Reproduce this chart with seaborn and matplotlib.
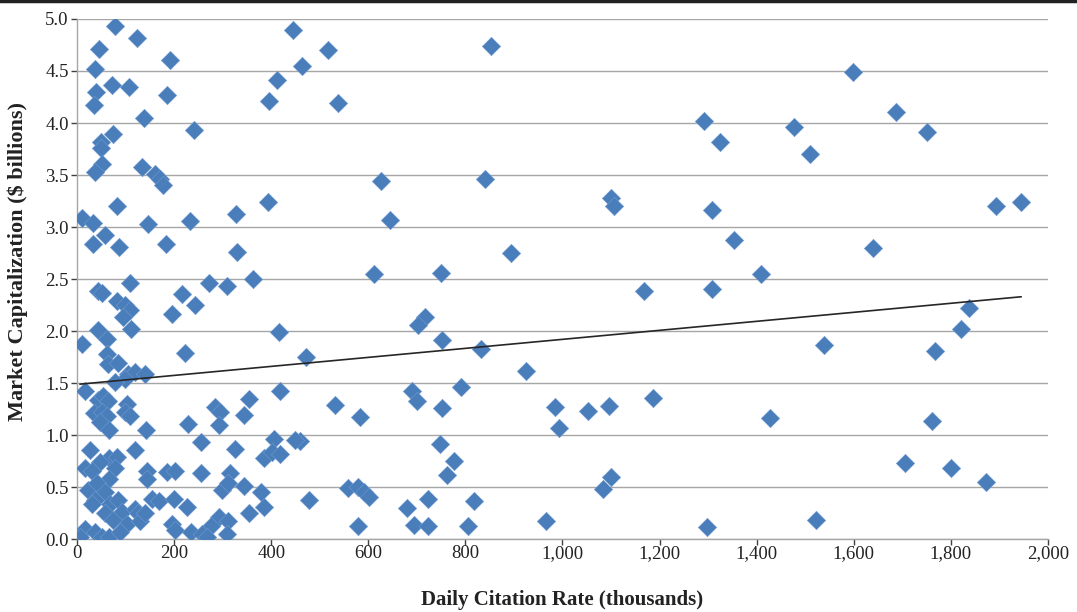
import matplotlib
matplotlib.use("Agg")
import matplotlib.pyplot as plt
import matplotlib.ticker as mticker
import pandas as pd
import seaborn as sns

# daily citation rate (thousands)
citation_rate = [
    78, 123, 46, 37, 192, 73, 108, 39, 34, 185, 138, 240, 74, 49, 50, 51, 37, 133, 160, 170, 178,
    395, 411, 445, 464, 516, 538, 853,
    626, 840, 645, 893, 612, 750,
    1598, 1687, 1292, 1476, 1751, 1324, 1510, 1100, 1107, 1308, 1893, 1945, 1354, 1640, 1408,
    1168, 1308, 1837, 1820, 1768, 1538, 1052, 1095, 1187, 1428, 1761, 1706, 1801, 1872, 1101, 1084, 1298, 1522,
    717, 703, 751, 832, 471, 925, 791, 691, 700, 531, 583, 751, 985, 992, 460, 748, 776, 762,
    558, 578, 591, 602, 478, 722, 818, 679, 578, 694, 724, 806, 966,
    82, 10, 33, 146, 232, 328, 393, 33, 58, 86, 183, 330, 109, 44, 51, 271, 309, 363, 217, 244,
    196, 83, 99, 109, 94, 112, 44, 61, 10, 416, 223, 62, 64, 84, 106, 120, 140, 99, 78, 17,
    44, 54, 64, 34, 51, 61, 48, 65, 103, 99, 109, 142, 229, 27, 120, 65, 82, 48, 17, 30, 78, 65,
    144, 144, 185, 202, 23, 41, 58, 37, 30, 68, 85, 92, 120, 126, 154, 168, 199, 226, 58, 75,
    103, 130, 17, 6, 37, 51, 65, 89, 196, 202, 235, 140,
    419, 354, 285, 295, 343, 292, 256, 326, 405, 450, 385, 402, 419, 256, 316, 299, 312, 343,
    378, 385, 354, 292, 312, 275, 257, 309, 268,
]

# market capitalization ($ billions)
market_cap = [
    4.93, 4.82, 4.71, 4.52, 4.61, 4.37, 4.35, 4.30, 4.17, 4.27, 4.05, 3.93, 3.89, 3.82, 3.76, 3.61, 3.53, 3.58, 3.51, 3.46, 3.40,
    4.21, 4.41, 4.89, 4.55, 4.70, 4.19, 4.74,
    3.44, 3.46, 3.07, 2.75, 2.55, 2.56,
    4.49, 4.11, 4.02, 3.96, 3.91, 3.82, 3.70, 3.28, 3.20, 3.16, 3.20, 3.24, 2.88, 2.80, 2.55,
    2.39, 2.40, 2.22, 2.02, 1.81, 1.87, 1.23, 1.28, 1.36, 1.16, 1.14, 0.73, 0.68, 0.55, 0.60, 0.48, 0.12, 0.18,
    2.14, 2.06, 1.91, 1.83, 1.75, 1.62, 1.46, 1.42, 1.33, 1.29, 1.17, 1.26, 1.27, 1.07, 0.94, 0.91, 0.75, 0.62,
    0.49, 0.50, 0.45, 0.41, 0.38, 0.39, 0.37, 0.30, 0.13, 0.14, 0.13, 0.13, 0.17,
    3.20, 3.09, 3.04, 3.03, 3.06, 3.13, 3.24, 2.84, 2.92, 2.81, 2.84, 2.76, 2.46, 2.39, 2.37, 2.46, 2.43, 2.50, 2.36, 2.25,
    2.16, 2.29, 2.25, 2.20, 2.14, 2.02, 2.01, 1.92, 1.88, 1.99, 1.79, 1.78, 1.68, 1.69, 1.59, 1.61, 1.59, 1.54, 1.51, 1.42,
    1.34, 1.38, 1.33, 1.21, 1.22, 1.18, 1.13, 1.05, 1.30, 1.22, 1.18, 1.05, 1.11, 0.86, 0.86, 0.78, 0.79, 0.74, 0.68, 0.66, 0.68, 0.58,
    0.66, 0.58, 0.65, 0.66, 0.47, 0.54, 0.45, 0.38, 0.34, 0.34, 0.38, 0.26, 0.29, 0.25, 0.39, 0.37, 0.39, 0.31, 0.25, 0.18,
    0.15, 0.17, 0.10, 0.02, 0.07, 0.02, 0.02, 0.07, 0.15, 0.09, 0.07, 0.25,
    1.42, 1.35, 1.27, 1.22, 1.19, 1.10, 0.93, 0.87, 0.96, 0.95, 0.78, 0.84, 0.82, 0.64, 0.64, 0.47, 0.54, 0.51,
    0.45, 0.31, 0.25, 0.21, 0.17, 0.13, 0.05, 0.05, 0.02,
]

# linear trend line as drawn in the chart (value at each end of the data range)
trend_x = [min(citation_rate), max(citation_rate)]
trend_y = [1.49, 2.33]

x_ticks = list(range(0, 2001, 200))
y_ticks = [i / 2 for i in range(11)]

df = pd.DataFrame({"Daily Citation Rate (thousands)": citation_rate,
                   "Market Capitalization ($ billions)": market_cap})
trend = pd.DataFrame({"x": trend_x, "y": trend_y})

sns.set_theme(style="white")
plt.rcParams["font.family"] = ["Liberation Serif", "DejaVu Serif"]

fig = plt.figure(figsize=(10.77, 6.12), dpi=100)
ax = fig.add_axes([0.0715, 0.119, 0.9015, 0.85])

grid_color = "#A6A6A6"
ax.set_axisbelow(True)
ax.yaxis.grid(True, color=grid_color, linewidth=1.0)
ax.xaxis.grid(False)

sns.scatterplot(data=df, x="Daily Citation Rate (thousands)", y="Market Capitalization ($ billions)",
                marker="D", s=88, color="#4A7EBB", edgecolor="#6F9AD0", linewidth=0.4, ax=ax, zorder=3)
sns.lineplot(data=trend, x="x", y="y", color="#262626", linewidth=1.2, ax=ax, zorder=4)

ax.set_xlim(0, 2000)
ax.set_ylim(0, 5)
ax.set_xticks(x_ticks)
ax.set_yticks(y_ticks)
ax.xaxis.set_major_formatter(mticker.FuncFormatter(lambda v, p: f"{int(v):,}"))
ax.yaxis.set_major_formatter(mticker.FormatStrFormatter("%.1f"))
ax.tick_params(axis="both", labelsize=13.5, colors="#404040", labelcolor="#222222",
               direction="out", length=4, width=1.0, bottom=True, left=True)
ax.tick_params(axis="x", pad=0)
ax.tick_params(axis="y", pad=2)

for side in ["top", "right"]:
    ax.spines[side].set_visible(False)
for side in ["left", "bottom"]:
    ax.spines[side].set_color(grid_color)
    ax.spines[side].set_linewidth(1.0)

ax.set_xlabel("Daily Citation Rate (thousands)", fontsize=15, fontweight="bold", color="#222222", labelpad=20)
ax.set_ylabel("Market Capitalization ($ billions)", fontsize=16, fontweight="bold", color="#222222")
ax.yaxis.set_label_coords(-0.05, 0.533)

fig.add_artist(plt.Line2D([0, 1], [0.998, 0.998], color="#222222", linewidth=2.5, transform=fig.transFigure))

fig.savefig("out.png", dpi=100)
